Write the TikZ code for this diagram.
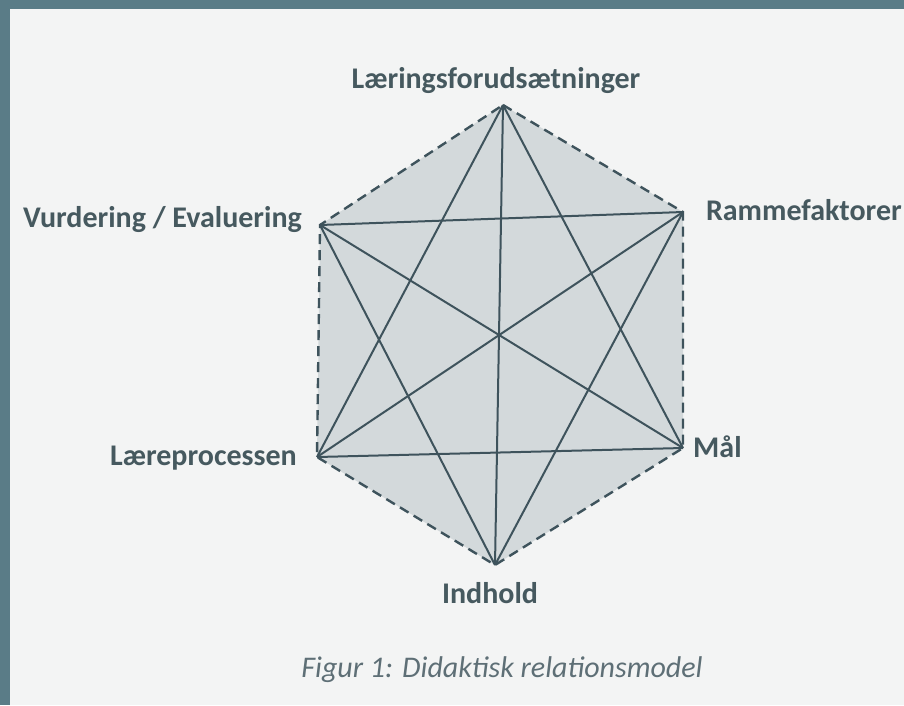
\documentclass[tikz,border=0pt]{standalone}
\usepackage{fontspec}
\setmainfont{Carlito}
\definecolor{frame}{HTML}{5A7C87}
\definecolor{paper}{HTML}{F3F4F4}
\definecolor{hexfill}{HTML}{D3D9DB}
\definecolor{ink}{HTML}{3E535C}
\definecolor{labelink}{HTML}{46595F}
\definecolor{captionink}{HTML}{5E6F76}
\tikzset{
  edge/.style={draw=ink, line width=2.4pt, dash pattern=on 10pt off 6pt},
  link/.style={draw=ink, line width=2pt},
  lbl/.style={text=labelink, font=\fontsize{30}{34}\selectfont\bfseries, inner sep=0pt},
  figcaption/.style={text=captionink, font=\fontsize{30}{34}\selectfont\itshape, inner sep=0pt}
}
\begin{document}
\begin{tikzpicture}[x=1pt, y=-1pt]
  % frame and page
  \fill[frame] (0,0) rectangle (904,705);
  \fill[paper] (10,9) rectangle (904,705);
  \useasboundingbox (0,0) rectangle (904,705);

  % corners of the hexagon
  \coordinate (L) at (503,105);
  \coordinate (R) at (683,212);
  \coordinate (M) at (683,448);
  \coordinate (I) at (495,565);
  \coordinate (P) at (317,457);
  \coordinate (V) at (320,225);

  % shaded hexagon
  \fill[hexfill] (L) -- (R) -- (M) -- (I) -- (P) -- (V) -- cycle;

  % all diagonals
  \foreach \a/\b in {L/M, L/I, L/P, R/I, R/P, R/V, M/P, M/V, I/V}
    \draw[link] (\a) -- (\b);

  % dashed outline
  \draw[edge] (L) -- (R) -- (M) -- (I) -- (P) -- (V) -- cycle;

  % labels
  \node[lbl, anchor=base] (tL) at (496,88) {Læringsforudsætninger};
  \node[lbl, anchor=base east] (tR) at (902,220) {Rammefaktorer};
  \node[lbl, anchor=base west] (tM) at (693,457) {Mål};
  \node[lbl, anchor=base] (tI) at (490,603) {Indhold};
  \node[lbl, anchor=base east] (tP) at (297,465) {Læreprocessen};
  \node[lbl, anchor=base east] (tV) at (302,227) {Vurdering / Evaluering};

  % caption
  \node[figcaption, anchor=base] (caption) at (502,677) {Figur 1: Didaktisk relationsmodel};
\end{tikzpicture}
\end{document}
